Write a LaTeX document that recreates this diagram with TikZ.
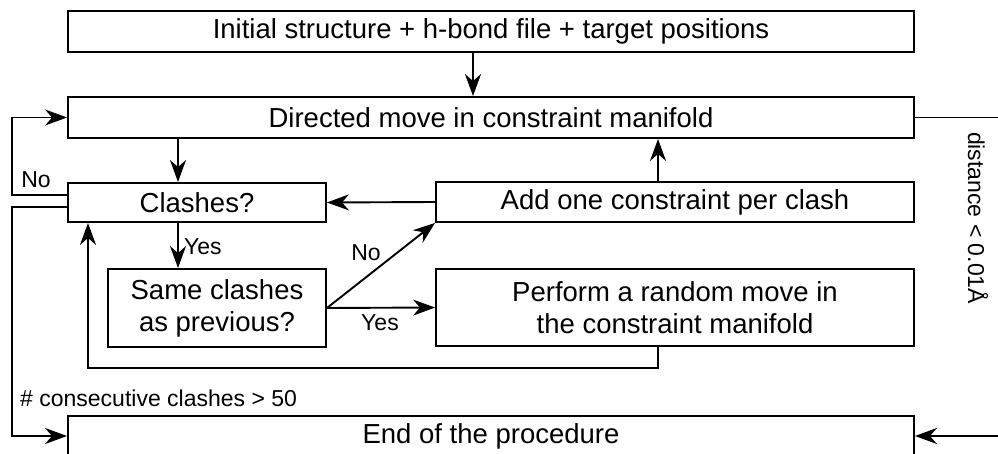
\documentclass[tikz,border=0pt]{standalone}
\usepackage{fontspec}
\setmainfont{Liberation Sans}
\usetikzlibrary{arrows.meta}
\begin{document}
\begin{tikzpicture}[x=1pt,y=-1pt,
  box/.style={draw, line width=1.9pt, inner sep=0pt, align=center, font=\fontsize{27.5}{32}\selectfont},
  lbl/.style={inner sep=0pt, font=\fontsize{23}{27}\selectfont},
  arr/.style={line width=1.9pt, -{Stealth[length=22pt,width=16pt,inset=7pt]}},
  ln/.style={line width=1.9pt}]
\useasboundingbox (0,0) rectangle (998,454);
\clip (0,0) rectangle (998,454);
\node[box, minimum width=846pt, minimum height=41pt] (init) at (491,31.5) {Initial structure + h-bond file + target positions};
\node[box, minimum width=846pt, minimum height=41pt] (dir) at (491,117.5) {Directed move in constraint manifold};
\node[box, minimum width=258pt, minimum height=39pt] (clash) at (197,202.5) {Clashes?};
\node[box, minimum width=478pt, minimum height=40pt] (add) at (675,202) {Add one constraint per clash};
\node[box, minimum width=218pt, minimum height=78pt] (same) at (217,308) {Same clashes\\as previous?};
\node[box, minimum width=478pt, minimum height=77pt] (perf) at (675,307.5) {Perform a random move in\\the constraint manifold};
\node[box, minimum width=846pt, minimum height=40pt] (end) at (491,436) {End of the procedure};
\coordinate (rtop) at (1005,117.5);
\coordinate (rbot) at (1005,436);
% arrows
\draw[arr] ([xshift=-18pt]init.south) -- ([xshift=-18pt]dir.north);
\draw[arr] ([xshift=-19pt]clash.north |- dir.south) -- ([xshift=-19pt]clash.north);
\draw[arr] ([xshift=-19pt]clash.south) -- ([xshift=-19pt]clash.south |- same.north);
\node[lbl, anchor=west] (yes1) at (184,247) {Yes};
\draw[arr] (add.west) -- (clash.east);
\draw[arr] ([xshift=-17pt]add.north) -- ([xshift=-17pt]add.north |- dir.south);
\draw[arr] (same.east) -- (add.south west);
\node[lbl] (no2) at (366,253) {No};
\draw[arr] (same.east) -- (perf.west);
\node[lbl] (yes2) at (380,323) {Yes};
\draw[arr] ([xshift=-17pt]perf.south) -- ++(0,21) -| ([xshift=-109pt]clash.south);
\draw[arr] ([yshift=7.5pt]clash.west) -- ++(-55,0) |- (dir.west);
\node[lbl] (no1) at (36,180) {No};
\draw[arr] ([yshift=-4.5pt]clash.west) -- ++(-55,0) |- (end.west);
\node[lbl, anchor=west] (cons) at (20,398) {\# consecutive clashes > 50};
\draw[ln] (dir.east) -- (rtop);
\draw[arr] (rbot) -- (end.east);
\node[lbl, rotate=-90] (dist) at (978,218) {distance < 0.01Å};
\end{tikzpicture}
\end{document}
